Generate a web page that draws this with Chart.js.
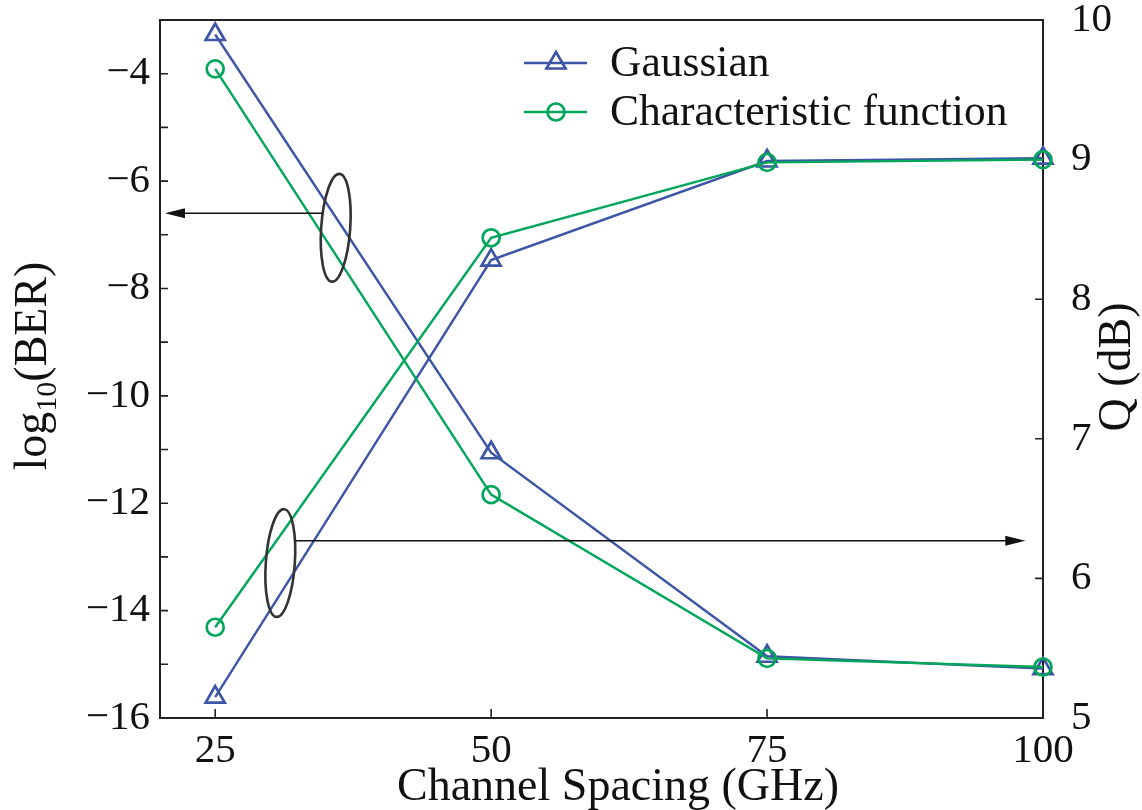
<!DOCTYPE html>
<html>
<head>
<meta charset="utf-8">
<script src="https://cdn.jsdelivr.net/npm/chart.js@4/dist/chart.umd.min.js"></script>
<style>
  body { margin: 0; background: #fff; }
  canvas { display: block; }
</style>
</head>
<body>
<canvas id="myChart" width="1142" height="810"></canvas>
<script>
// 채널 간격 (GHz)
const spacing = [25, 50, 75, 100];

// log10(BER) - 왼쪽 축
const berGaussian = [-3.27, -11.06, -14.85, -15.08];
const berCharFn = [-3.91, -11.84, -14.89, -15.05];

// Q (dB) - 오른쪽 축
const qGaussian = [5.15, 8.28, 8.99, 9.01];
const qCharFn = [5.65, 8.44, 8.98, 9.0];

// 눈금
const xTicks = [25, 50, 75, 100];
const berTicks = [-16, -14, -12, -10, -8, -6, -4];
const berMinorTicks = [-16, -15, -14, -13, -12, -11, -10, -9, -8, -7, -6, -5, -4, -3];
const qTicks = [5, 6, 7, 8, 9, 10];

const seriesNames = ["Gaussian", "Characteristic function"];

const BLUE = "#3d55a5";
const GREEN = "#00a65a";
const SERIF = "'Liberation Serif', 'Times New Roman', serif";

// 타원 + 화살표 주석 (데이터 좌표)
const berNote = { cx: 35.92, cy: -6.87, arrowY: -6.6, arrowFrom: 34.7, arrowTo: 20.45 };
const qNote = { cx: 30.9, cy: 6.11, arrowY: 6.27, arrowFrom: 32.25, arrowTo: 98.4 };

function pts(ys) {
  return spacing.map((x, i) => ({ x: x, y: ys[i] }));
}

function lineSet(label, data, color, style, axis, order) {
  return {
    label: label,
    data: pts(data),
    yAxisID: axis,
    borderColor: color,
    backgroundColor: "transparent",
    borderWidth: 2.4,
    pointStyle: style,
    pointRadius: style === "triangle" ? 11 : 8.5,
    pointBorderWidth: 2.7,
    pointBorderColor: color,
    pointBackgroundColor: "transparent",
    tension: 0,
    clip: false,
    order: order
  };
}

function tickLabel(v) {
  return v < 0 ? "\u2212" + Math.abs(v) : String(v);
}

// 축 여백이 라벨 때문에 늘어나지 않도록
function fixPad(s) {
  s.paddingTop = 0;
  s.paddingBottom = 0;
  s.paddingLeft = 0;
  s.paddingRight = 0;
}

// 축 틀, 안쪽 눈금, 주석, 범례, 축 제목
const decorations = {
  id: "decorations",
  beforeDatasetsDraw(chart) {
    const { ctx, chartArea: a, scales } = chart;
    ctx.save();
    ctx.strokeStyle = "#222";
    ctx.lineWidth = 2;
    ctx.strokeRect(a.left, a.top, a.right - a.left, a.bottom - a.top);
    ctx.lineWidth = 1.6;
    ctx.beginPath();
    xTicks.forEach(v => {
      const px = scales.x.getPixelForValue(v);
      ctx.moveTo(px, a.bottom);
      ctx.lineTo(px, a.bottom - 9);
    });
    berMinorTicks.forEach(v => {
      const py = scales.y.getPixelForValue(v);
      ctx.moveTo(a.left, py);
      ctx.lineTo(a.left + 8, py);
    });
    qTicks.forEach(v => {
      const py = scales.y2.getPixelForValue(v);
      ctx.moveTo(a.right, py);
      ctx.lineTo(a.right - 8, py);
    });
    ctx.stroke();
    ctx.restore();
  },
  afterDatasetsDraw(chart) {
    const { ctx, scales } = chart;
    const x = scales.x, y = scales.y, y2 = scales.y2;
    ctx.save();

    // 타원
    ctx.strokeStyle = "#333";
    ctx.lineWidth = 2.6;
    [[berNote, y], [qNote, y2]].forEach(([n, ys]) => {
      ctx.beginPath();
      ctx.ellipse(x.getPixelForValue(n.cx), ys.getPixelForValue(n.cy), 14.5, 54, 0.07, 0, Math.PI * 2);
      ctx.stroke();
    });

    // 화살표
    ctx.strokeStyle = "#111";
    ctx.fillStyle = "#111";
    ctx.lineWidth = 1.5;
    [[berNote, y], [qNote, y2]].forEach(([n, ys]) => {
      const py = ys.getPixelForValue(n.arrowY);
      const x0 = x.getPixelForValue(n.arrowFrom);
      const x1 = x.getPixelForValue(n.arrowTo);
      const dir = x1 > x0 ? 1 : -1;
      ctx.beginPath();
      ctx.moveTo(x0, py);
      ctx.lineTo(x1 - dir * 16, py);
      ctx.stroke();
      ctx.beginPath();
      ctx.moveTo(x1, py);
      ctx.lineTo(x1 - dir * 20, py - 5);
      ctx.lineTo(x1 - dir * 20, py + 5);
      ctx.closePath();
      ctx.fill();
    });

    // 범례
    const rows = [
      { name: seriesNames[0], color: BLUE, style: "triangle", r: 11, y: 63 },
      { name: seriesNames[1], color: GREEN, style: "circle", r: 8.5, y: 112 }
    ];
    rows.forEach(row => {
      ctx.strokeStyle = row.color;
      ctx.fillStyle = "rgba(0,0,0,0)";
      ctx.lineWidth = 2.4;
      ctx.beginPath();
      ctx.moveTo(524, row.y);
      ctx.lineTo(587, row.y);
      ctx.stroke();
      ctx.lineWidth = 2.7;
      Chart.helpers.drawPoint(ctx, { pointStyle: row.style, radius: row.r, rotation: 0, borderWidth: 2.7 }, 556, row.y);
      ctx.fillStyle = "#111";
      ctx.font = "43.5px " + SERIF;
      ctx.textAlign = "left";
      ctx.textBaseline = "middle";
      ctx.fillText(row.name, 610, row.y + 2);
    });
    ctx.restore();
  },
  afterDraw(chart) {
    const { ctx } = chart;
    ctx.save();
    ctx.fillStyle = "#111";
    ctx.textBaseline = "alphabetic";

    // x 축 제목
    ctx.font = "46px " + SERIF;
    ctx.textAlign = "center";
    ctx.fillText("Channel Spacing (GHz)", 618, 800);

    // 왼쪽 축 제목: log10(BER), 아래첨자 포함
    ctx.save();
    ctx.translate(46, 366);
    ctx.rotate(-Math.PI / 2);
    const big = "46px " + SERIF, small = "30px " + SERIF;
    ctx.font = big;
    const w1 = ctx.measureText("log").width;
    const w3 = ctx.measureText("(BER)").width;
    ctx.font = small;
    const w2 = ctx.measureText("10").width;
    let sx = -(w1 + w2 + w3) / 2;
    ctx.textAlign = "left";
    ctx.font = big;
    ctx.fillText("log", sx, 0);
    ctx.font = small;
    ctx.fillText("10", sx + w1, 10);
    ctx.font = big;
    ctx.fillText("(BER)", sx + w1 + w2, 0);
    ctx.restore();

    // 오른쪽 축 제목
    ctx.save();
    ctx.translate(1130, 367);
    ctx.rotate(-Math.PI / 2);
    ctx.font = big;
    ctx.textAlign = "center";
    ctx.fillText("Q (dB)", 0, 0);
    ctx.restore();

    ctx.restore();
  }
};

const ctx = document.getElementById("myChart").getContext("2d");

const tickFont = { family: SERIF, size: 41 };

const chart = new Chart(ctx, {
  type: "line",
  data: {
    datasets: [
      lineSet(seriesNames[0], berGaussian, BLUE, "triangle", "y", 1),
      lineSet(seriesNames[1], berCharFn, GREEN, "circle", "y", 0),
      lineSet(seriesNames[0], qGaussian, BLUE, "triangle", "y2", 1),
      lineSet(seriesNames[1], qCharFn, GREEN, "circle", "y2", 0)
    ]
  },
  options: {
    responsive: false,
    animation: false,
    devicePixelRatio: 1,
    layout: { padding: { top: 20, left: 0, right: 0, bottom: 0 } },
    plugins: {
      legend: { display: false },
      tooltip: { enabled: false }
    },
    scales: {
      x: {
        type: "linear",
        min: 20,
        max: 100,
        grid: { display: false, drawTicks: false },
        border: { display: false },
        afterBuildTicks: s => { s.ticks = xTicks.map(v => ({ value: v })); },
        afterFit: s => { s.height = 92; fixPad(s); },
        ticks: { font: tickFont, color: "#111", padding: 9, maxRotation: 0 }
      },
      y: {
        type: "linear",
        position: "left",
        min: -16,
        max: -3,
        grid: { display: false, drawTicks: false },
        border: { display: false },
        afterBuildTicks: s => { s.ticks = berTicks.map(v => ({ value: v })); },
        afterFit: s => { s.width = 160; fixPad(s); },
        ticks: { font: tickFont, color: "#111", padding: 10, callback: v => tickLabel(v) }
      },
      y2: {
        type: "linear",
        position: "right",
        min: 5,
        max: 10,
        grid: { display: false, drawTicks: false },
        border: { display: false },
        afterBuildTicks: s => { s.ticks = qTicks.map(v => ({ value: v })); },
        afterFit: s => { s.width = 99; fixPad(s); },
        ticks: { font: tickFont, color: "#111", padding: 28 }
      }
    }
  },
  plugins: [decorations]
});
</script>
</body>
</html>
